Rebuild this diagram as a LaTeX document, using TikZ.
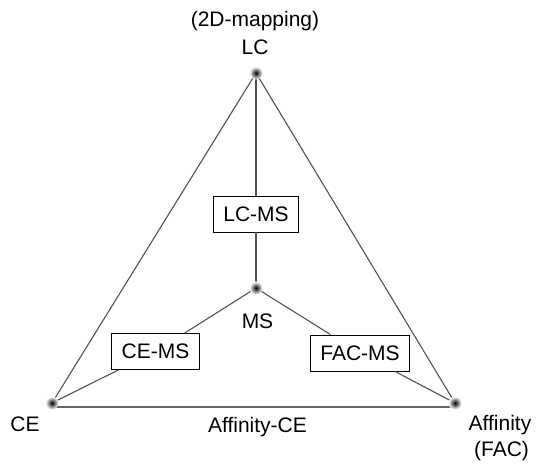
\documentclass[tikz,border=0pt]{standalone}
\usepackage{fontspec}
\setmainfont{Liberation Sans}
\begin{document}
\begin{tikzpicture}[x=1pt,y=-1pt,
  lbl/.style={inner sep=0pt, font=\fontsize{21}{25}\selectfont},
  box/.style={draw=black, line width=0.9pt, fill=white, inner xsep=10pt, inner ysep=0pt,
              minimum height=36pt, font=\fontsize{21}{25}\selectfont},
  vdot/.style={circle, inner sep=0pt, minimum size=13pt, shading=radial,
               inner color=black, outer color=white},
  conn/.style={draw=black!68, line width=1.1pt},
  base/.style={draw=black!60, line width=2pt}]
\useasboundingbox (0,0) rectangle (538,465);
% vertices
\coordinate (LC) at (256,73);
\coordinate (MS) at (256,288);
\coordinate (CE) at (52,403);
\coordinate (AF) at (455,403);
% boxes
\node[box] (lcms) at (256,214) {LC-MS};
\node[box] (cems) at (155.5,351.5) {CE-MS};
\node[box] (facms) at (360,353) {FAC-MS};
% connectors
\draw[conn] (LC) -- (CE);
\draw[conn] (LC) -- (AF);
\draw[conn] (LC) -- (lcms);
\draw[conn] (lcms) -- (MS);
\draw[conn] (MS) -- (cems);
\draw[conn] (cems) -- (CE);
\draw[conn] (MS) -- (facms);
\draw[conn] (facms) -- (AF);
\draw[base] ([yshift=-3.5pt]CE) -- ([yshift=-3.5pt]AF);
% dots
\node[vdot] (dLC) at (LC) {};
\node[vdot] (dMS) at (MS) {};
\node[vdot] (dCE) at (CE) {};
\node[vdot] (dAF) at (AF) {};
% labels
\node[lbl] (t2d) at (255,21.5) {(2D-mapping)};
\node[lbl] (tLC) at (255,47.5) {LC};
\node[lbl] (tMS) at (257.5,321.5) {MS};
\node[lbl] (tCE) at (25,424) {CE};
\node[lbl] (tAFCE) at (257.5,427.5) {Affinity-CE};
\node[lbl] (tAF) at (500,425) {Affinity};
\node[lbl] (tFAC) at (501.5,451) {(FAC)};
\end{tikzpicture}
\end{document}
